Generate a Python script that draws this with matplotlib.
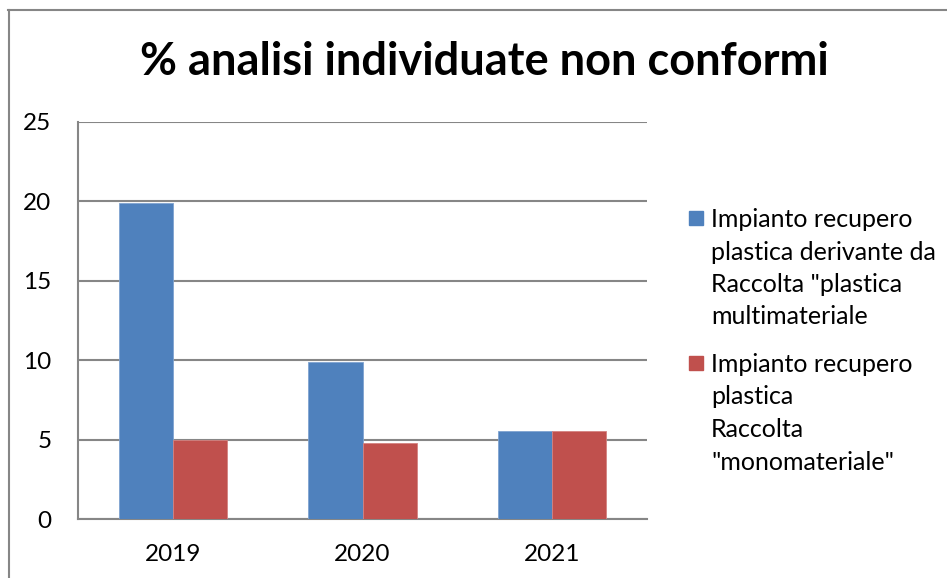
import numpy as np
import matplotlib.pyplot as plt
from matplotlib.lines import Line2D
from matplotlib.patches import Rectangle

years = ["2019", "2020", "2021"]
multi = [19.9, 9.9, 5.55]
mono = [5.0, 4.8, 5.55]
series_names = [
    'Impianto recupero\nplastica derivante da\nRaccolta "plastica\nmultimateriale',
    'Impianto recupero\nplastica\nRaccolta\n"monomateriale"',
]
colors = ["#4F81BD", "#C0504D"]
yticks = [0, 5, 10, 15, 20, 25]

plt.rcParams['font.family'] = ['Lato', 'DejaVu Sans']

W, H = 947, 578
fig = plt.figure(figsize=(W / 100, H / 100), dpi=100)
ax = fig.add_axes([78 / W, 1 - 519 / H, 569 / W, 397 / H])

x = np.arange(len(years))
w = 0.285
ax.bar(x - w / 2, multi, w, color=colors[0], edgecolor="#7FA3D0", linewidth=0.6, zorder=3)
ax.bar(x + w / 2, mono, w, color=colors[1], edgecolor="#D48280", linewidth=0.6, zorder=3)

ax.set_xlim(-0.5, 2.5)
ax.set_ylim(0, 25)
ax.set_yticks(yticks)
ax.set_xticks(x)
ax.set_xticklabels(years)
ax.tick_params(axis='y', length=0, pad=19, labelsize=17.5)
ax.tick_params(axis='x', length=0, pad=18, labelsize=17.5)
ax.grid(axis='y', color="#868686", linewidth=1.5, zorder=0)
for s in ['top', 'right']:
    ax.spines[s].set_visible(False)
for s in ['left', 'bottom']:
    ax.spines[s].set_color("#868686")
    ax.spines[s].set_linewidth(1.5)

fig.text(484 / W, 1 - 62 / H, "% analisi individuate non conformi", ha='center', va='center',
         fontsize=32.5, fontweight='bold')

# legend drawn by hand: square beside the first line, one text per line
square_mid = [218, 363]
first_base = [227, 372]
step = 32.5
for name, c, ym, yb in zip(series_names, colors, square_mid, first_base):
    fig.patches.append(Rectangle((689 / W, 1 - (ym + 7) / H), 14 / W, 14 / H,
                                 transform=fig.transFigure, color=c))
    for i, line in enumerate(name.split("\n")):
        fig.text(711 / W, 1 - (yb + i * step) / H, line, ha='left', va='baseline', fontsize=18)

# chart frame
fig.add_artist(Line2D([8 / W, 1.0], [1 - 10 / H, 1 - 10 / H], color="#868686", linewidth=1.5))
fig.add_artist(Line2D([9 / W, 9 / W], [0.0, 1 - 10 / H], color="#868686", linewidth=1.5))

fig.savefig("out.png", dpi=100)
